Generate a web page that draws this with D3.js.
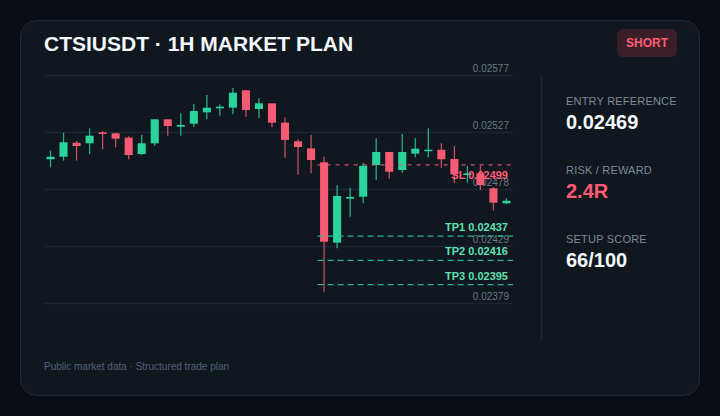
<!DOCTYPE html>
<html><head><meta charset="utf-8">
<script src="https://cdn.jsdelivr.net/npm/d3@7"></script>
<style>
html,body{margin:0;padding:0;background:#0a0e14;}
svg{display:block;font-family:"Liberation Sans",Arial,Helvetica,sans-serif;}
</style>
</head><body>
<svg id="c" width="720" height="416"></svg>
<script>
// ---- data ----
const opens  = [0.025038,0.025060,0.025182,0.025177,0.025272,0.025264,0.025226,0.025084,0.025177,0.025385,0.025321,0.025347,0.025446,0.025481,0.025486,0.025637,0.025475,0.025524,0.025356,0.025194,0.025133,0.025012,0.024314,0.024696,0.024713,0.024988,0.025101,0.024945,0.025087,0.025110,0.025121,0.025041,0.024902,0.024916,0.024786,0.024656];
const highs  = [0.025113,0.025269,0.025197,0.025307,0.025284,0.025268,0.025238,0.025249,0.025385,0.025388,0.025437,0.025518,0.025596,0.025516,0.025657,0.025640,0.025568,0.025527,0.025403,0.025212,0.025249,0.025060,0.024812,0.024791,0.025008,0.025220,0.025104,0.025258,0.025220,0.025307,0.025177,0.025153,0.024980,0.024982,0.024795,0.024699];
const lows   = [0.024968,0.025026,0.025026,0.025084,0.025125,0.025142,0.025038,0.025075,0.025156,0.025243,0.025243,0.025321,0.025385,0.025417,0.025429,0.025408,0.025394,0.025316,0.025052,0.024904,0.024916,0.023888,0.024265,0.024539,0.024656,0.024858,0.024869,0.024922,0.025055,0.025055,0.024965,0.024830,0.024835,0.024771,0.024592,0.024647];
const closes = [0.025060,0.025186,0.025153,0.025243,0.025258,0.025217,0.025075,0.025177,0.025385,0.025327,0.025336,0.025457,0.025486,0.025495,0.025616,0.025466,0.025524,0.025356,0.025206,0.025145,0.025032,0.024322,0.024719,0.024711,0.024982,0.025101,0.024930,0.025101,0.025130,0.025121,0.025038,0.024908,0.024916,0.024815,0.024661,0.024678];
const tickValues = [0.02577,0.025275,0.02478,0.024285,0.02379];
const tickLabels = ["0.02577","0.02527","0.02478","0.02429","0.02379"];
const levelNames  = ["SL","TP1","TP2","TP3"];
const levelValues = [0.02499,0.02437,0.02416,0.02395];
const levelStartIndex = 21;
const statLabels = ["ENTRY REFERENCE","RISK / REWARD","SETUP SCORE"];
const statValues = ["0.02469","2.4R","66/100"];
const titleText = "CTSIUSDT · 1H MARKET PLAN";
const badgeText = "SHORT";
const footerText = "Public market data · Structured trade plan";

// ---- style ----
const GREEN = "#2ad49d", RED = "#f65b74", TPCOL = "#5fe0b3";
const svg = d3.select("#c");

svg.append("rect").attr("x",20.5).attr("y",20.5).attr("width",679).attr("height",375)
  .attr("rx",16).attr("fill","#10171f").attr("stroke","#1e2733").attr("stroke-width",1);

svg.append("text").attr("x",44).attr("y",51).attr("font-size",21).attr("font-weight",700)
  .attr("fill","#f4f7fb").text(titleText);

svg.append("rect").attr("x",617).attr("y",29).attr("width",60).attr("height",28).attr("rx",6)
  .attr("fill","#3a1f29");
svg.append("text").attr("x",647).attr("y",47).attr("text-anchor","middle").attr("font-size",12)
  .attr("font-weight",700).attr("fill","#ff5b72").text(badgeText);

// ---- scales ----
const plotL = 44, plotR = 513, plotT = 75, plotB = 303;
const x = d3.scaleBand().domain(d3.range(opens.length)).range([plotL, plotR])
  .paddingInner(0.38).paddingOuter(0.19);
const y = d3.scaleLinear().domain([0.02379, 0.02577]).range([plotB, plotT]);

// grid axis
const axis = d3.axisRight(y).tickValues(tickValues).tickSize(plotR - plotL)
  .tickFormat((d,i)=>tickLabels[i]);
const gAxis = svg.append("g").attr("transform",`translate(${plotL},0)`).call(axis);
gAxis.select(".domain").remove();
gAxis.selectAll(".tick line").attr("stroke","#1c2531").attr("stroke-width",1.5);
gAxis.selectAll(".tick text").attr("x", plotR - plotL - 4).attr("dy",-4)
  .attr("text-anchor","end").attr("font-size",10).attr("fill","#6c7688")
  .attr("font-family","'Liberation Sans',Arial,sans-serif");

// divider
svg.append("line").attr("x1",541.5).attr("x2",541.5).attr("y1",75).attr("y2",340)
  .attr("stroke","#1c2531").attr("stroke-width",1.5);

// candles
const data = opens.map((o,i)=>({i, o, h:highs[i], l:lows[i], c:closes[i]}));
const g = svg.append("g");
const cg = g.selectAll("g.candle").data(data).enter().append("g");
cg.append("line")
  .attr("x1",d=>x(d.i)+x.bandwidth()/2).attr("x2",d=>x(d.i)+x.bandwidth()/2)
  .attr("y1",d=>y(d.h)).attr("y2",d=>y(d.l))
  .attr("stroke",d=>d.c>=d.o?GREEN:RED).attr("stroke-width",1.3).attr("opacity",0.8);
cg.append("rect")
  .attr("x",d=>x(d.i)).attr("width",x.bandwidth())
  .attr("y",d=>y(Math.max(d.o,d.c)))
  .attr("height",d=>Math.max(1.5, Math.abs(y(d.o)-y(d.c))))
  .attr("fill",d=>d.c>=d.o?GREEN:RED);

// levels
const lx1 = x(levelStartIndex) - (x.step()-x.bandwidth())/2;
levelValues.forEach((v,i)=>{
  const isSL = levelNames[i]==="SL";
  svg.append("line").attr("x1",lx1).attr("x2",plotR).attr("y1",y(v)).attr("y2",y(v))
    .attr("stroke",isSL?RED:"#2bc79a").attr("stroke-width",1.3)
    .attr("stroke-dasharray",isSL?"4,5":"6,4").attr("opacity",isSL?0.85:0.9);
  svg.append("text").attr("x",508).attr("y",isSL?y(v)+14:y(v)-5)
    .attr("text-anchor","end").attr("font-size",11).attr("font-weight",700)
    .attr("fill",isSL?"#ff5f78":TPCOL).text(`${levelNames[i]} ${v.toFixed(5)}`);
});

// stats
const statColors = ["#f4f7fb","#ff5b72","#f4f7fb"];
statLabels.forEach((s,i)=>{
  svg.append("text").attr("x",566).attr("y",105+i*69).attr("font-size",11)
    .attr("letter-spacing",0.2).attr("fill","#7e899b").text(s);
  svg.append("text").attr("x",566).attr("y",128.5+i*69).attr("font-size",20)
    .attr("font-weight",700).attr("fill",statColors[i]).text(statValues[i]);
});

svg.append("text").attr("x",44).attr("y",370).attr("font-size",10)
  .attr("fill","#52617b").text(footerText);
</script>
</body></html>
